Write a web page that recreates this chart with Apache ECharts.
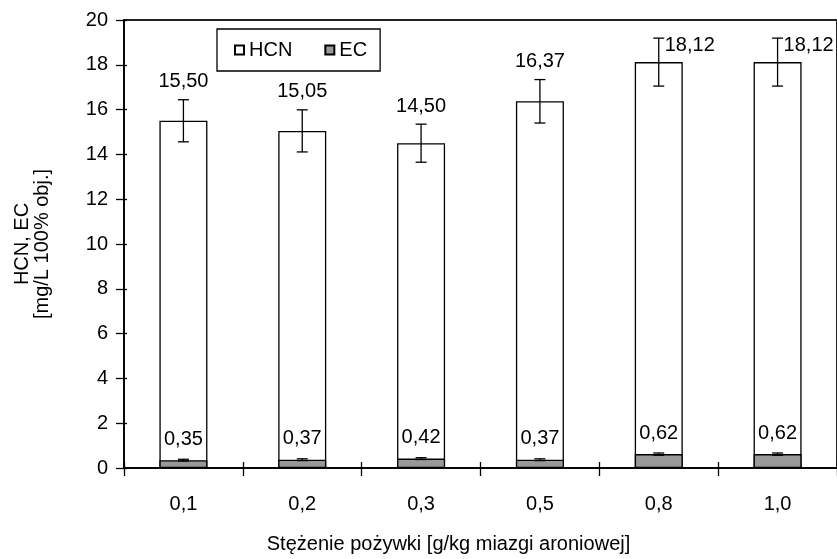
<!DOCTYPE html>
<html>
<head>
<meta charset="utf-8">
<script src="https://cdn.jsdelivr.net/npm/echarts@6/dist/echarts.min.js"></script>
<style>
html,body{margin:0;padding:0;background:#fff;}
#c{width:837px;height:559px;}
</style>
</head>
<body>
<div id="c"></div>
<script>
const categories = ['0,1', '0,2', '0,3', '0,5', '0,8', '1,0'];
const hcnValues = [15.50, 15.05, 14.50, 16.37, 18.12, 18.12];
const hcnErrors = [0.94, 0.94, 0.85, 0.97, 1.07, 1.07];
const ecValues = [0.35, 0.37, 0.42, 0.37, 0.62, 0.62];
const ecErrors = [0.04, 0.04, 0.04, 0.04, 0.05, 0.05];
const yMin = 0, yMax = 20, yStep = 2;

const FONT = "'Liberation Sans', Arial, sans-serif";
const FS = 20;
const fmt = v => v.toFixed(2).replace('.', ',');

const chart = echarts.init(document.getElementById('c'), null, {renderer: 'canvas'});

function errRender(withLabel) {
  return function (params, api) {
    const i = api.value(0), v = api.value(1), e = api.value(2);
    const top = api.coord([i, v + e]);
    const bot = api.coord([i, v - e]);
    const cx = top[0];
    const hw = 5.5;
    const st = {stroke: '#000', lineWidth: 1.3};
    const children = [
      {type: 'line', shape: {x1: cx, y1: top[1], x2: cx, y2: bot[1]}, style: st},
      {type: 'line', shape: {x1: cx - hw, y1: top[1], x2: cx + hw, y2: top[1]}, style: st},
      {type: 'line', shape: {x1: cx - hw, y1: bot[1], x2: cx + hw, y2: bot[1]}, style: st}
    ];
    if (withLabel) {
      const plotTop = params.coordSys.y;
      let lx = cx, ly = top[1] - 18, align = 'center';
      if (ly - FS / 2 < plotTop) { lx = cx + 6; ly = top[1] + 7; align = 'left'; }
      children.push({
        type: 'text',
        style: {x: lx, y: ly, text: fmt(v), fill: '#000', font: FS + 'px ' + FONT,
                align: align, verticalAlign: 'middle'}
      });
    }
    return {type: 'group', children: children};
  };
}

const option = {
  animation: false,
  backgroundColor: '#fff',
  textStyle: {fontFamily: FONT, color: '#000'},
  grid: {left: 124, right: -2, top: 20, bottom: 91, show: true,
         borderColor: '#222', borderWidth: 2, backgroundColor: 'transparent'},
  legend: {
    data: ['HCN', 'EC'],
    left: 217, top: 29,
    orient: 'horizontal',
    itemWidth: 9, itemHeight: 9, itemGap: 32,
    icon: 'rect',
    padding: [11, 13, 11, 17],
    borderColor: '#000', borderWidth: 1.3, backgroundColor: '#fff',
    textStyle: {fontSize: FS, fontFamily: FONT, color: '#000'}
  },
  xAxis: [{
    type: 'category',
    data: categories,
    axisLine: {lineStyle: {color: '#000', width: 1.5}},
    axisTick: {show: true, length: 8, lineStyle: {color: '#000', width: 1.3}},
    axisLabel: {fontSize: FS, color: '#000', margin: 26, fontFamily: FONT},
    name: 'Stężenie pożywki [g/kg miazgi aroniowej]',
    nameLocation: 'middle', nameGap: 66,
    nameTextStyle: {fontSize: FS, color: '#000', fontFamily: FONT, padding: [0, 64, 0, 0]}
  }, {
    type: 'category',
    data: categories,
    position: 'bottom',
    axisLine: {show: false},
    axisTick: {show: true, inside: true, length: 6, lineStyle: {color: '#000', width: 1.3}},
    axisLabel: {show: false}
  }],
  yAxis: [{
    type: 'value',
    min: yMin, max: yMax, interval: yStep,
    splitLine: {show: false},
    axisLine: {show: true, lineStyle: {color: '#000', width: 1.5}},
    axisTick: {show: true, length: 8, lineStyle: {color: '#000', width: 1.3}},
    axisLabel: {fontSize: FS, color: '#000', margin: 16, fontFamily: FONT},
    name: 'HCN, EC\n[mg/L 100% obj.]',
    nameLocation: 'middle', nameRotate: 90, nameGap: 72,
    nameTextStyle: {fontSize: FS, color: '#000', fontFamily: FONT, lineHeight: 20, align: 'center'}
  }, {
    type: 'value',
    position: 'left',
    min: yMin, max: yMax, interval: yStep,
    splitLine: {show: false},
    axisLine: {show: false},
    axisTick: {show: true, inside: true, length: 3, lineStyle: {color: '#000', width: 1.3}},
    axisLabel: {show: false}
  }],
  series: [
    {
      name: 'HCN', type: 'bar', data: hcnValues, barWidth: 48, z: 2,
      itemStyle: {color: '#fff', borderColor: '#000', borderWidth: 1.3}
    },
    {
      name: 'EC', type: 'bar', data: ecValues, barWidth: 48, barGap: '-100%', z: 3,
      itemStyle: {color: '#999999', borderColor: '#000', borderWidth: 1.3},
      label: {show: true, position: 'top', distance: 11, fontSize: FS, color: '#000',
              fontFamily: FONT, formatter: p => fmt(p.value)}
    },
    {
      name: 'HCN err', type: 'custom', z: 5,
      renderItem: errRender(true),
      encode: {x: 0, y: 1},
      data: hcnValues.map((v, i) => [i, v, hcnErrors[i]])
    },
    {
      name: 'EC err', type: 'custom', z: 5,
      renderItem: errRender(false),
      encode: {x: 0, y: 1},
      data: ecValues.map((v, i) => [i, v, ecErrors[i]])
    }
  ]
};
chart.setOption(option);
</script>
</body>
</html>
